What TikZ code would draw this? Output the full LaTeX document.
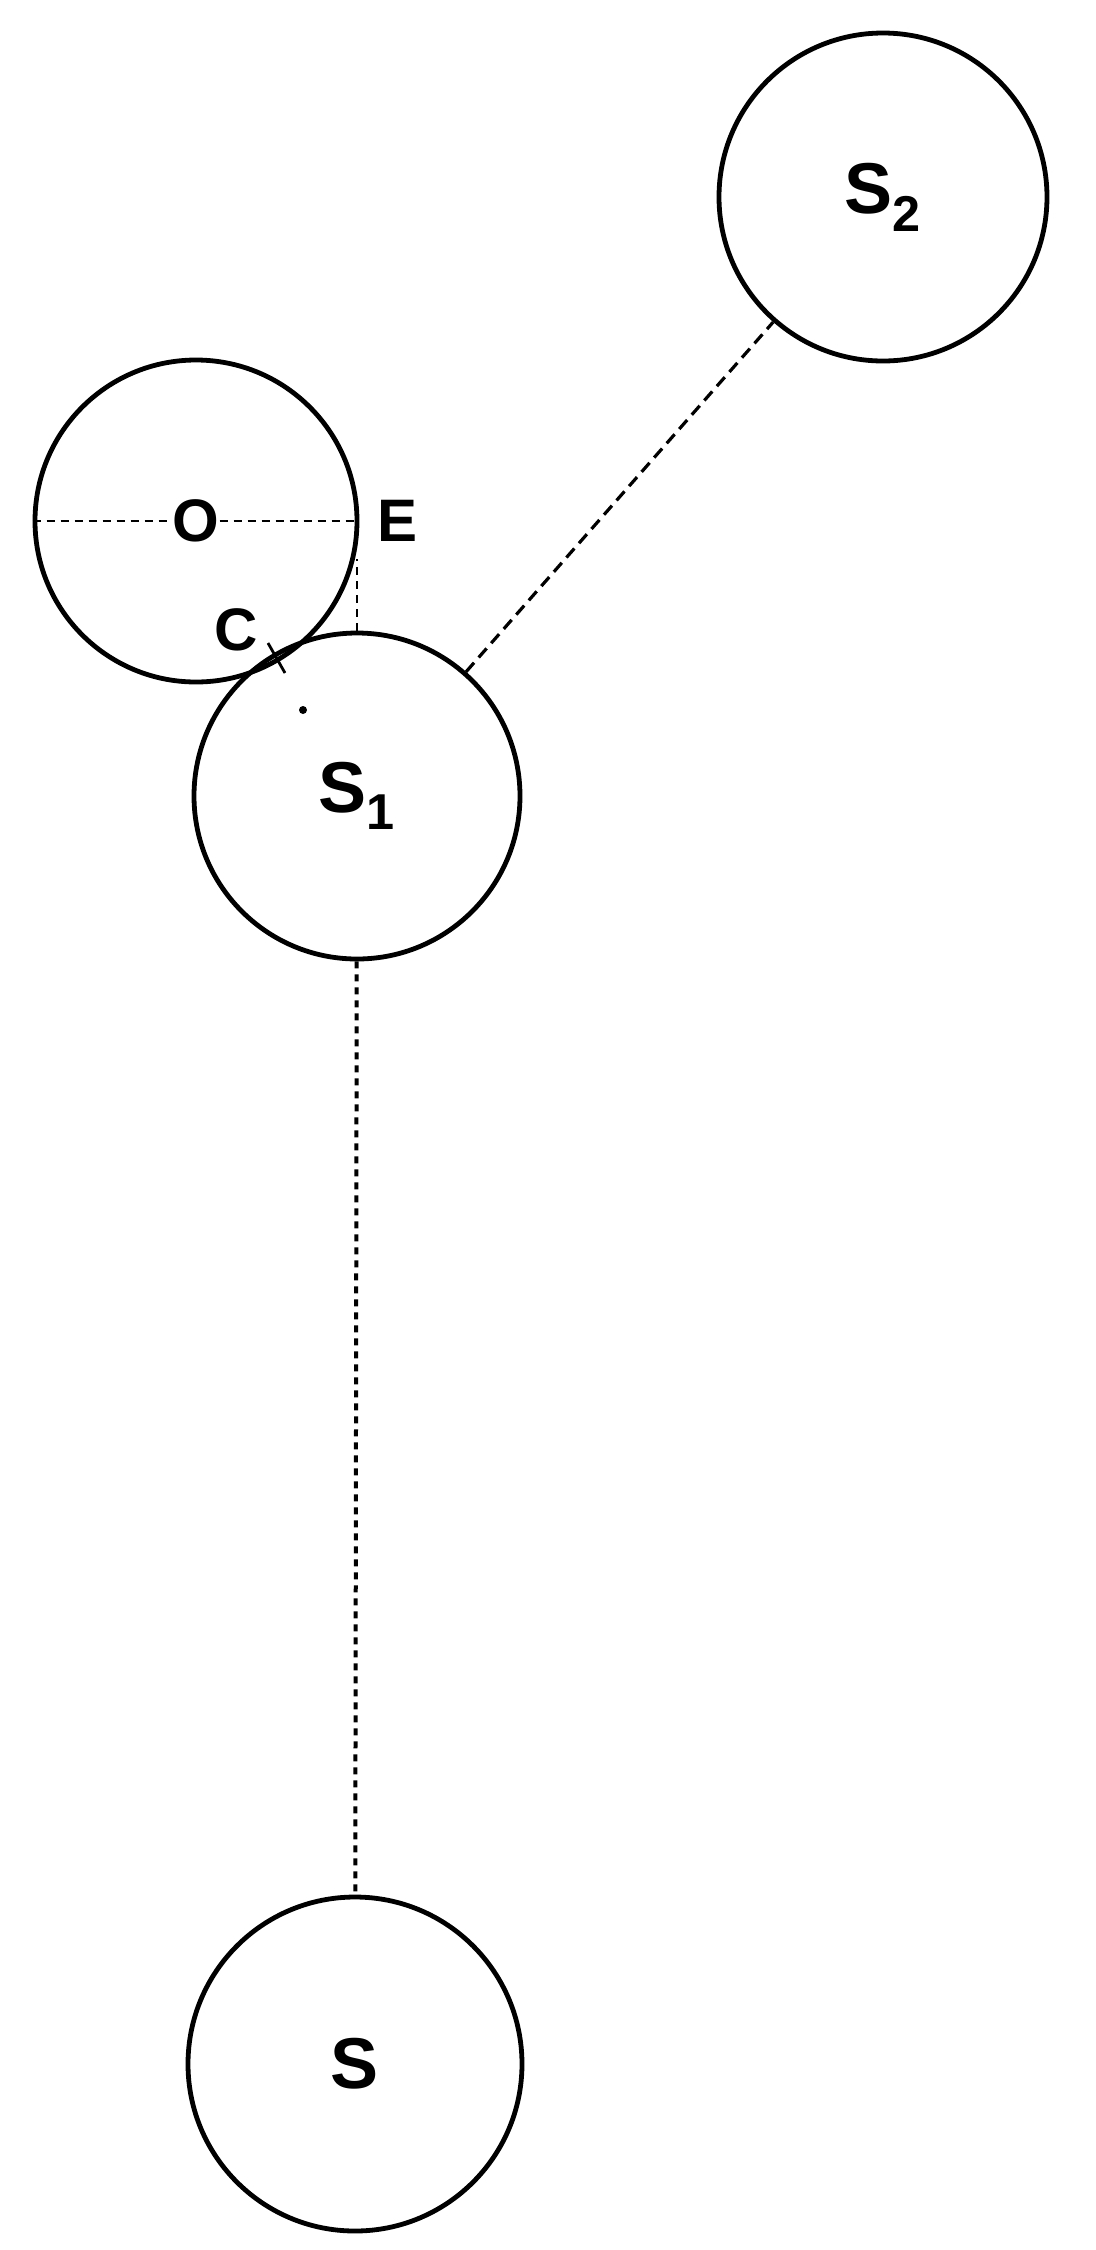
\documentclass[tikz,border=0pt]{standalone}
\usepackage{fontspec}
\setmainfont{Liberation Sans}
\usetikzlibrary{positioning}

\tikzset{
  body/.style={draw, circle, line width=2.4pt, inner sep=0pt, font=\biglbl},
  lbl/.style={inner sep=0pt, font=\lbl},
  link/.style={line width=1.6pt, dash pattern=on 6pt off 3.5pt},
  stem/.style={line width=2pt, dash pattern=on 3.5pt off 3pt},
  guide/.style={line width=1pt, dash pattern=on 4pt off 3pt}
}
\newcommand{\lbl}{\fontsize{30}{32}\selectfont\bfseries}
\newcommand{\biglbl}{\fontsize{36}{38}\selectfont\bfseries}

\begin{document}
\begin{tikzpicture}[x=0.5pt, y=-0.5pt]
            \useasboundingbox (0, 0) rectangle (1096, 2250);
            \node[body, minimum size=164pt] (S2) at (883, 197) {S\textsubscript{2}};
            \node[body, minimum size=161pt] (orb) at (196, 521) {};
            \node[body, minimum size=163pt] (S1) at (357, 796) {S\textsubscript{1}};
            \node[body, minimum size=167pt] (S) at (355, 2064) {S};
            \node[lbl] (O) at (orb.center) {O};
            \node[lbl, right=9pt of orb.east, anchor=west] (E) {E};
            \node[lbl] (C) at (236, 630) {C};
            \draw[guide] (orb.west) -- (O.west);
            \draw[guide] (O.east) -- (orb.east);
            \draw[guide, shorten >=19pt] (S1.north) -- (S1.north |- orb.east);
            \draw[link] (S1) -- (S2);
            \draw[stem] (S1) -- (S);
            \draw[line width=1.4pt] (268, 643) -- (285, 673);
            \fill (303, 710) circle (2pt);
        \end{tikzpicture}
\end{document}
